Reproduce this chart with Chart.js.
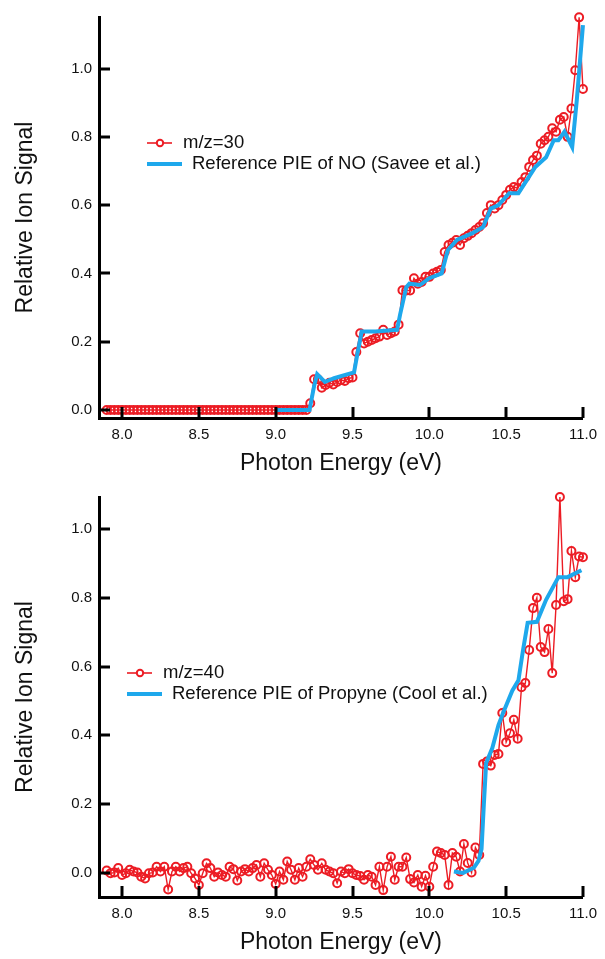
<!DOCTYPE html>
<html>
<head>
<meta charset="utf-8">
<script src="https://cdn.jsdelivr.net/npm/chart.js@4.4.1/dist/chart.umd.min.js"></script>
<style>
  body { margin: 0; background: #fff; }
  #wrap { position: relative; width: 605px; height: 959px; }
  #topBox { position: absolute; left: 0; top: 0; }
  #botBox { position: absolute; left: 0; top: 480px; }
</style>
</head>
<body>
<div id="wrap">
  <div id="topBox"><canvas id="topChart" width="605" height="480"></canvas></div>
  <div id="botBox"><canvas id="botChart" width="605" height="479"></canvas></div>
</div>
<script>
// photon energy grid of the measured scans (eV)
const energy = [7.9,7.925,7.95,7.975,8,8.025,8.05,8.075,8.1,8.125,8.15,8.175,8.2,8.225,8.25,8.275,8.3,8.325,8.35,8.375,
  8.4,8.425,8.45,8.475,8.5,8.525,8.55,8.575,8.6,8.625,8.65,8.675,8.7,8.725,8.75,8.775,8.8,8.825,8.85,8.875,
  8.9,8.925,8.95,8.975,9,9.025,9.05,9.075,9.1,9.125,9.15,9.175,9.2,9.225,9.25,9.275,9.3,9.325,9.35,9.375,
  9.4,9.425,9.45,9.475,9.5,9.525,9.55,9.575,9.6,9.625,9.65,9.675,9.7,9.725,9.75,9.775,9.8,9.825,9.85,9.875,
  9.9,9.925,9.95,9.975,10,10.025,10.05,10.075,10.1,10.125,10.15,10.175,10.2,10.225,10.25,10.275,10.3,10.325,10.35,10.375,
  10.4,10.425,10.45,10.475,10.5,10.525,10.55,10.575,10.6,10.625,10.65,10.675,10.7,10.725,10.75,10.775,10.8,10.825,10.85,10.875,
  10.9,10.925,10.95,10.975,11];

// m/z = 30 signal
const mz30 = [0,0,0,0,0,0,0,0,0,0,0,0,0,0,0,0,0,0,0,0,
  0,0,0,0,0,0,0,0,0,0,0,0,0,0,0,0,0,0,0,0,
  0,0,0,0,0,0,0,0,0,0,0,0,0,0.02,0.09,0.09,0.065,0.073,0.08,0.075,
  0.082,0.088,0.085,0.093,0.095,0.17,0.225,0.195,0.2,0.205,0.21,0.215,0.235,0.22,0.225,0.23,0.25,0.351,0.35,0.35,
  0.386,0.37,0.375,0.39,0.39,0.4,0.405,0.41,0.463,0.483,0.49,0.498,0.483,0.503,0.51,0.518,0.527,0.536,0.547,0.577,
  0.6,0.59,0.6,0.615,0.63,0.645,0.653,0.65,0.668,0.682,0.712,0.732,0.745,0.78,0.79,0.8,0.825,0.815,0.85,0.858,
  0.8,0.883,0.995,1.15,0.94];

// m/z = 40 signal
const mz40 = [0.007,-0.001,0.001,0.014,-0.006,-0.001,0.009,0.004,0.001,-0.011,-0.016,-0.001,0.001,0.018,0.004,0.018,-0.048,0.004,0.018,0.004,
  0.014,0.018,-0.001,-0.016,-0.035,-0.001,0.028,0.014,-0.011,0.001,-0.006,-0.011,0.018,0.011,-0.022,0.004,0.011,0.004,0.014,0.023,
  -0.011,0.028,0.009,-0.006,-0.032,0.004,-0.02,0.033,0.009,-0.02,0.014,-0.011,0.018,0.04,0.023,0.009,0.028,0.009,0.004,-0.001,
  -0.03,0.004,-0.001,0.011,-0.001,-0.006,-0.009,-0.02,-0.006,-0.011,-0.035,0.018,-0.05,0.018,0.047,-0.02,0.018,0.018,0.045,-0.018,
  -0.028,-0.006,-0.04,-0.008,-0.04,0.018,0.062,0.058,0.052,-0.035,0.058,0.047,0.004,0.084,0.029,0.001,0.074,0.052,0.317,0.324,
  0.312,0.343,0.346,0.465,0.38,0.406,0.445,0.39,0.54,0.552,0.648,0.77,0.8,0.657,0.642,0.709,0.581,0.779,1.093,0.79,
  0.796,0.936,0.86,0.92,0.918];

// reference PIE of NO (Savee et al.)
const refNoE = [9.0,9.22,9.25,9.27,9.32,9.38,9.47,9.51,9.53,9.56,9.65,9.79,9.81,9.85,9.87,9.94,10.0,10.08,10.12,10.18,
  10.28,10.35,10.4,10.45,10.52,10.58,10.69,10.76,10.81,10.84,10.88,10.93,10.96,11.0];
const refNo = [0,0,0.07,0.105,0.082,0.093,0.105,0.11,0.16,0.23,0.23,0.235,0.28,0.36,0.37,0.366,0.386,0.4,0.468,0.498,
  0.518,0.536,0.59,0.6,0.635,0.635,0.712,0.74,0.79,0.79,0.815,0.77,0.908,1.127];

// reference PIE of propyne (Cool et al.)
const refPropE = [10.16,10.22,10.29,10.32,10.34,10.355,10.37,10.41,10.45,10.48,10.54,10.58,10.61,10.64,10.7,10.76,10.84,10.9,10.99];
const refProp = [0.004,0,0.015,0.035,0.07,0.2,0.32,0.363,0.43,0.465,0.53,0.56,0.648,0.727,0.73,0.794,0.86,0.86,0.88];

const xTicks = [8.0, 8.5, 9.0, 9.5, 10.0, 10.5, 11.0];
const yTicks = [0.0, 0.2, 0.4, 0.6, 0.8, 1.0];

const RED = "#ec1c24";
const BLUE = "#1ea8ec";
const FONT = "'Liberation Sans', Arial, Helvetica, sans-serif";

Chart.defaults.font.family = FONT;
Chart.defaults.color = "#111";

function pts(xs, ys) {
  return xs.map((x, i) => ({ x: x, y: ys[i] }));
}

// inward tick marks, drawn from the scale positions
const innerTicks = {
  id: "innerTicks",
  afterDraw(chart) {
    const { ctx, chartArea, scales } = chart;
    ctx.save();
    ctx.strokeStyle = "#000";
    ctx.lineWidth = 3;
    scales.x.ticks.forEach((t) => {
      const px = Math.round(scales.x.getPixelForValue(t.value));
      ctx.beginPath();
      ctx.moveTo(px, chartArea.bottom);
      ctx.lineTo(px, chartArea.bottom - 11);
      ctx.stroke();
    });
    scales.y.ticks.forEach((t) => {
      const py = Math.round(scales.y.getPixelForValue(t.value));
      ctx.beginPath();
      ctx.moveTo(chartArea.left, py);
      ctx.lineTo(chartArea.left + 11, py);
      ctx.stroke();
    });
    ctx.restore();
  },
};

// legend inside the plot, like the original figure
const innerLegend = {
  id: "innerLegend",
  afterDraw(chart, args, opts) {
    const ctx = chart.ctx;
    ctx.save();
    ctx.font = "18.5px " + FONT;
    ctx.textBaseline = "middle";
    // red marker line
    ctx.strokeStyle = RED;
    ctx.lineWidth = 1.6;
    ctx.beginPath();
    ctx.moveTo(opts.x, opts.y);
    ctx.lineTo(opts.x + 25, opts.y);
    ctx.stroke();
    ctx.beginPath();
    ctx.arc(opts.x + 13, opts.y, 3.2, 0, Math.PI * 2);
    ctx.fillStyle = "#fff";
    ctx.fill();
    ctx.lineWidth = 2;
    ctx.stroke();
    ctx.fillStyle = "#111";
    ctx.fillText(opts.text1, opts.x + 36, opts.y);
    // blue reference line
    ctx.strokeStyle = BLUE;
    ctx.lineWidth = 4;
    ctx.beginPath();
    ctx.moveTo(opts.x, opts.y + 21);
    ctx.lineTo(opts.x + 35, opts.y + 21);
    ctx.stroke();
    ctx.fillText(opts.text2, opts.x + 45, opts.y + 21);
    ctx.restore();
  },
};

function makeChart(id, red, redLabel, refE, ref, refLabel, yMin, yMax, legendPos, xH) {
  return new Chart(document.getElementById(id), {
    type: "line",
    data: {
      datasets: [
        {
          label: refLabel,
          data: pts(refE, ref),
          borderColor: BLUE,
          borderWidth: 4,
          pointRadius: 0,
          fill: false,
          clip: false,
        },
        {
          label: redLabel,
          data: pts(energy, red),
          borderColor: RED,
          borderWidth: 1.4,
          pointRadius: 4,
          pointBorderWidth: 2,
          pointBorderColor: RED,
          pointBackgroundColor: "rgba(255,255,255,0)",
          fill: false,
          clip: false,
        },
      ],
    },
    options: {
      responsive: false,
      animation: false,
      layout: { padding: { top: 17, right: 17, left: 0, bottom: 0 } },
      plugins: {
        legend: { display: false },
        tooltip: { enabled: false },
        innerLegend: { x: legendPos.x, y: legendPos.y, text1: redLabel, text2: refLabel },
      },
      scales: {
        x: {
          type: "linear",
          min: 7.85,
          max: 11.0,
          afterBuildTicks: (s) => { s.ticks = xTicks.map((v) => ({ value: v })); },
          afterFit: (s) => { s.height = xH; },
          ticks: {
            font: { size: 15 },
            padding: 8,
            maxRotation: 0,
            autoSkip: false,
            callback: (v) => Number(v).toFixed(1),
          },
          grid: { display: true, drawOnChartArea: false, drawTicks: false },
          border: { display: true, color: "#000", width: 3 },
          title: { display: true, text: "Photon Energy (eV)", font: { size: 23 }, padding: { top: 0, bottom: 3 }, color: "#111" },
        },
        y: {
          type: "linear",
          min: yMin,
          max: yMax,
          afterBuildTicks: (s) => { s.ticks = yTicks.map((v) => ({ value: v })); },
          afterFit: (s) => { s.width = 99; },
          ticks: {
            font: { size: 15 },
            padding: 7,
            autoSkip: false,
            callback: (v) => Number(v).toFixed(1),
          },
          grid: { display: true, drawOnChartArea: false, drawTicks: false },
          border: { display: true, color: "#000", width: 3 },
          title: { display: true, text: "Relative Ion Signal", font: { size: 23 }, padding: { top: 12, bottom: 0 }, color: "#111" },
        },
      },
    },
    plugins: [innerTicks, innerLegend],
  });
}

const topChart = makeChart("topChart", mz30, "m/z=30", refNoE, refNo,
  "Reference PIE of NO (Savee et al.)", -0.0234, 1.151, { x: 147, y: 143 }, 62);
const botChart = makeChart("botChart", mz40, "m/z=40", refPropE, refProp,
  "Reference PIE of Propyne (Cool et al.)", -0.07, 1.093, { x: 127, y: 193 }, 62);
</script>
</body>
</html>
